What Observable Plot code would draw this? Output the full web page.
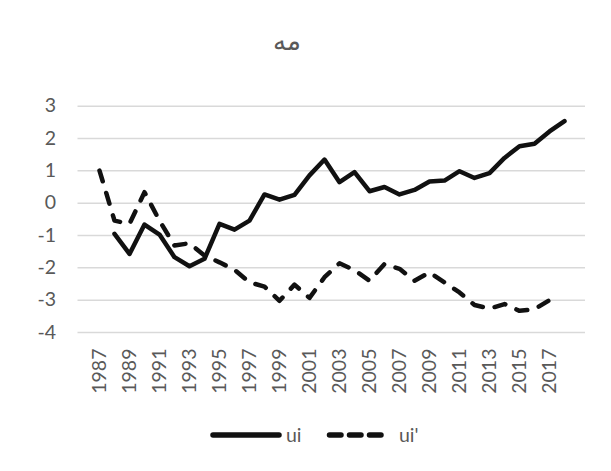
<!DOCTYPE html>
<html>
<head>
<meta charset="utf-8">
<script src="https://cdn.jsdelivr.net/npm/d3@7"></script>
<script src="https://cdn.jsdelivr.net/npm/@observablehq/plot@0.6"></script>
<style>
  html, body { margin: 0; padding: 0; background: #fff; }
  #wrap { position: relative; width: 611px; height: 471px; overflow: hidden; font-family: Lato, sans-serif; }
  #title { position: absolute; left: 0; width: 574px; top: 26px; text-align: center; font-family: "DejaVu Sans", sans-serif; font-size: 26px; color: #595959; }
  #chart { position: absolute; left: 0; top: 75px; }
  #legend { position: absolute; left: 0; top: 420px; }
</style>
</head>
<body>
<div id="wrap">
  <div id="title">مه</div>
  <div id="chart"></div>
  <svg id="legend" width="611" height="32"></svg>
</div>
<script>
const years = [1987,1988,1989,1990,1991,1992,1993,1994,1995,1996,1997,1998,1999,2000,2001,2002,2003,2004,2005,2006,2007,2008,2009,2010,2011,2012,2013,2014,2015,2016,2017,2018];
const ui = [null,-0.95,-1.57,-0.66,-0.97,-1.67,-1.95,-1.72,-0.64,-0.82,-0.54,0.27,0.11,0.26,0.86,1.35,0.65,0.96,0.37,0.50,0.27,0.41,0.67,0.70,0.99,0.78,0.93,1.40,1.76,1.84,2.22,2.54];
const uiPrime = [1.01,-0.54,-0.64,0.34,-0.54,-1.31,-1.24,-1.62,-1.83,-2.06,-2.45,-2.58,-3.02,-2.52,-2.93,-2.29,-1.86,-2.07,-2.40,-1.88,-2.03,-2.40,-2.14,-2.45,-2.76,-3.15,-3.26,-3.12,-3.33,-3.28,-3.00,null];
const yTicks = [-4,-3,-2,-1,0,1,2,3];
const xTickLabels = [1987,1989,1991,1993,1995,1997,1999,2001,2003,2005,2007,2009,2011,2013,2015,2017];
const seriesNames = ["ui", "ui'"];

const rowsUi = years.map((y, i) => ({year: y, value: ui[i]}));
const rowsUiP = years.map((y, i) => ({year: y, value: uiPrime[i]}));

const plot = Plot.plot({
  width: 611,
  height: 330,
  marginTop: 30.7,
  marginBottom: 73,
  marginLeft: 77.5,
  marginRight: 26,
  style: {fontFamily: "Lato, sans-serif", fontSize: "19.5px", color: "#595959", background: "transparent", overflow: "visible"},
  x: {type: "point", domain: years, padding: 0.5, label: null},
  y: {domain: [-4, 3], label: null},
  marks: [
    Plot.ruleY(yTicks, {stroke: "#d9d9d9", strokeWidth: 1.5}),
    Plot.axisY({ticks: yTicks, tickSize: 0, tickPadding: 22, tickFormat: d => String(d), fill: "#595959", label: null}),
    Plot.axisX({ticks: xTickLabels, tickSize: 0, tickPadding: 16, tickRotate: -90, tickFormat: d => String(d), fill: "#595959", label: null}),
    Plot.line(rowsUi, {x: "year", y: "value", stroke: "#111", strokeWidth: 4.5, strokeLinejoin: "round", strokeLinecap: "round"}),
    Plot.line(rowsUiP, {x: "year", y: "value", stroke: "#111", strokeWidth: 4.5, strokeLinejoin: "round", strokeLinecap: "round", strokeDasharray: "11.2,12.2"})
  ]
});
document.getElementById("chart").appendChild(plot);

// legend
const lg = d3.select("#legend");
const cy = 15;
lg.append("line").attr("x1", 213).attr("x2", 279).attr("y1", cy).attr("y2", cy)
  .attr("stroke", "#111").attr("stroke-width", 5.5).attr("stroke-linecap", "round");
lg.append("text").attr("x", 286).attr("y", cy).attr("dy", "0.36em").text(seriesNames[0])
  .attr("fill", "#595959").style("font-family", "Lato, sans-serif").style("font-size", "19.5px");
lg.append("line").attr("x1", 329.5).attr("x2", 381.5).attr("y1", cy).attr("y2", cy)
  .attr("stroke", "#111").attr("stroke-width", 5.5).attr("stroke-linecap", "round").attr("stroke-dasharray", "11.5,8.5");
lg.append("text").attr("x", 399).attr("y", cy).attr("dy", "0.36em").text(seriesNames[1])
  .attr("fill", "#595959").style("font-family", "Lato, sans-serif").style("font-size", "19.5px");
</script>
</body>
</html>
